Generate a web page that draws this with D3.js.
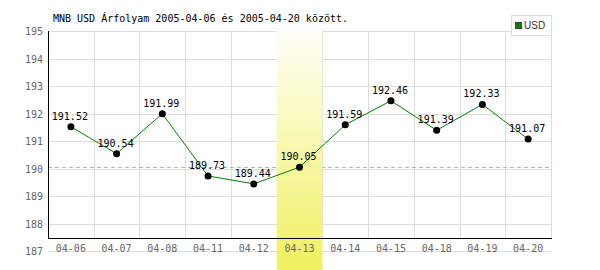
<!DOCTYPE html>
<html>
<head>
<meta charset="utf-8">
<script src="https://cdn.jsdelivr.net/npm/d3@7"></script>
<style>
  body { margin: 0; background: #fff; }
  svg { display: block; }
</style>
</head>
<body>
<svg width="600" height="270"></svg>
<script>
(function() {

    const dates = ['04-06', '04-07', '04-08', '04-11', '04-12', '04-13', '04-14', '04-15', '04-18', '04-19', '04-20'];
    const rates = [191.52, 190.54, 191.99, 189.73, 189.44, 190.05, 191.59, 192.46, 191.39, 192.33, 191.07];
    const yTicks = [187, 188, 189, 190, 191, 192, 193, 194, 195];
    const highlight = '04-13';
    const title = 'MNB USD Árfolyam 2005-04-06 és 2005-04-20 között.';
    const seriesName = 'USD';

    const mono = '"DejaVu Sans Mono", monospace';
    const left = 48, right = 551, top = 31, axisY = 238;

    const svg = d3.select('svg');

    const x = d3.scaleBand()
        .domain(dates)
        .range([left, right]);

    const y = d3.scaleLinear()
        .domain([187, 195])
        .range([251, top]);

    // gradient for the highlighted day
    const grad = svg.append('defs').append('linearGradient')
        .attr('id', 'hl')
        .attr('x1', 0).attr('y1', 0).attr('x2', 0).attr('y2', 1);
    grad.append('stop').attr('offset', '0%').attr('stop-color', '#fffff8');
    grad.append('stop').attr('offset', '100%').attr('stop-color', '#f0f060');

    // horizontal grid
    svg.append('g')
        .selectAll('line')
        .data(yTicks)
        .enter()
        .append('line')
        .attr('x1', left)
        .attr('x2', right)
        .attr('y1', d => Math.round(y(d)) + 0.5)
        .attr('y2', d => Math.round(y(d)) + 0.5)
        .attr('stroke', '#ddd');

    // vertical grid
    svg.append('g')
        .selectAll('line')
        .data(dates.slice(1).concat(['end']))
        .enter()
        .append('line')
        .attr('x1', d => Math.round(d === 'end' ? right : x(d)) + 0.5)
        .attr('x2', d => Math.round(d === 'end' ? right : x(d)) + 0.5)
        .attr('y1', top)
        .attr('y2', axisY)
        .attr('stroke', '#ddd');

    // reference line at the highlighted day's value
    const hlValue = rates[dates.indexOf(highlight)];
    svg.append('line')
        .attr('x1', left)
        .attr('x2', right)
        .attr('y1', Math.round(y(hlValue)) + 0.5)
        .attr('y2', Math.round(y(hlValue)) + 0.5)
        .attr('stroke', '#8fd08f')
        .attr('stroke-dasharray', '4,3');

    // highlight band
    svg.append('rect')
        .attr('x', x(highlight))
        .attr('y', top)
        .attr('width', x.bandwidth())
        .attr('height', 270 - top)
        .attr('fill', 'url(#hl)');

    // axes lines
    svg.append('line')
        .attr('x1', left + 0.5).attr('x2', left + 0.5)
        .attr('y1', top).attr('y2', axisY + 1)
        .attr('stroke', '#000');
    svg.append('line')
        .attr('x1', left).attr('x2', right + 1)
        .attr('y1', axisY + 0.5).attr('y2', axisY + 0.5)
        .attr('stroke', '#000');

    // y labels
    svg.append('g')
        .selectAll('text')
        .data(yTicks)
        .enter()
        .append('text')
        .attr('x', 43)
        .attr('y', d => y(d) + 4)
        .attr('text-anchor', 'end')
        .attr('font-family', mono)
        .attr('font-size', 10)
        .attr('fill', '#666')
        .text(d => d);

    // x labels
    svg.append('g')
        .selectAll('text')
        .data(dates)
        .enter()
        .append('text')
        .attr('x', d => x(d) + x.bandwidth() / 2)
        .attr('y', 252)
        .attr('text-anchor', 'middle')
        .attr('font-family', mono)
        .attr('font-size', 10)
        .attr('fill', '#666')
        .text(d => d);

    // series line
    const line = d3.line()
        .x((d, i) => x(dates[i]) + x.bandwidth() / 2)
        .y(d => y(d));

    svg.append('path')
        .datum(rates)
        .attr('d', line)
        .attr('fill', 'none')
        .attr('stroke', '#008000')
        .attr('stroke-width', 1);

    const pts = svg.append('g')
        .selectAll('g')
        .data(rates)
        .enter()
        .append('g')
        .attr('transform', (d, i) => `translate(${ x(dates[i]) + x.bandwidth() / 2 }, ${ y(d) })`);

    pts.append('circle')
        .attr('r', 3.5)
        .attr('fill', '#000');

    pts.append('text')
        .attr('x', -1)
        .attr('y', -7)
        .attr('text-anchor', 'middle')
        .attr('font-family', mono)
        .attr('font-size', 10)
        .attr('fill', '#000')
        .text(d => d.toFixed(2));

    // title
    svg.append('text')
        .attr('x', 53)
        .attr('y', 22)
        .attr('font-family', mono)
        .attr('font-size', 10)
        .attr('fill', '#000')
        .text(title);

    // legend
    const lg = svg.append('g');
    lg.append('rect')
        .attr('x', 511.5).attr('y', 15.5)
        .attr('width', 40).attr('height', 20)
        .attr('fill', '#fff')
        .attr('stroke', '#ddd');
    lg.append('rect')
        .attr('x', 515.5).attr('y', 22.5)
        .attr('width', 6).attr('height', 6)
        .attr('fill', '#008000')
        .attr('stroke', '#444');
    lg.append('text')
        .attr('x', 524)
        .attr('y', 29)
        .attr('font-family', '"Liberation Sans", sans-serif')
        .attr('font-size', 10)
        .attr('fill', '#333')
        .text(seriesName);

})();
</script>
</body>
</html>
